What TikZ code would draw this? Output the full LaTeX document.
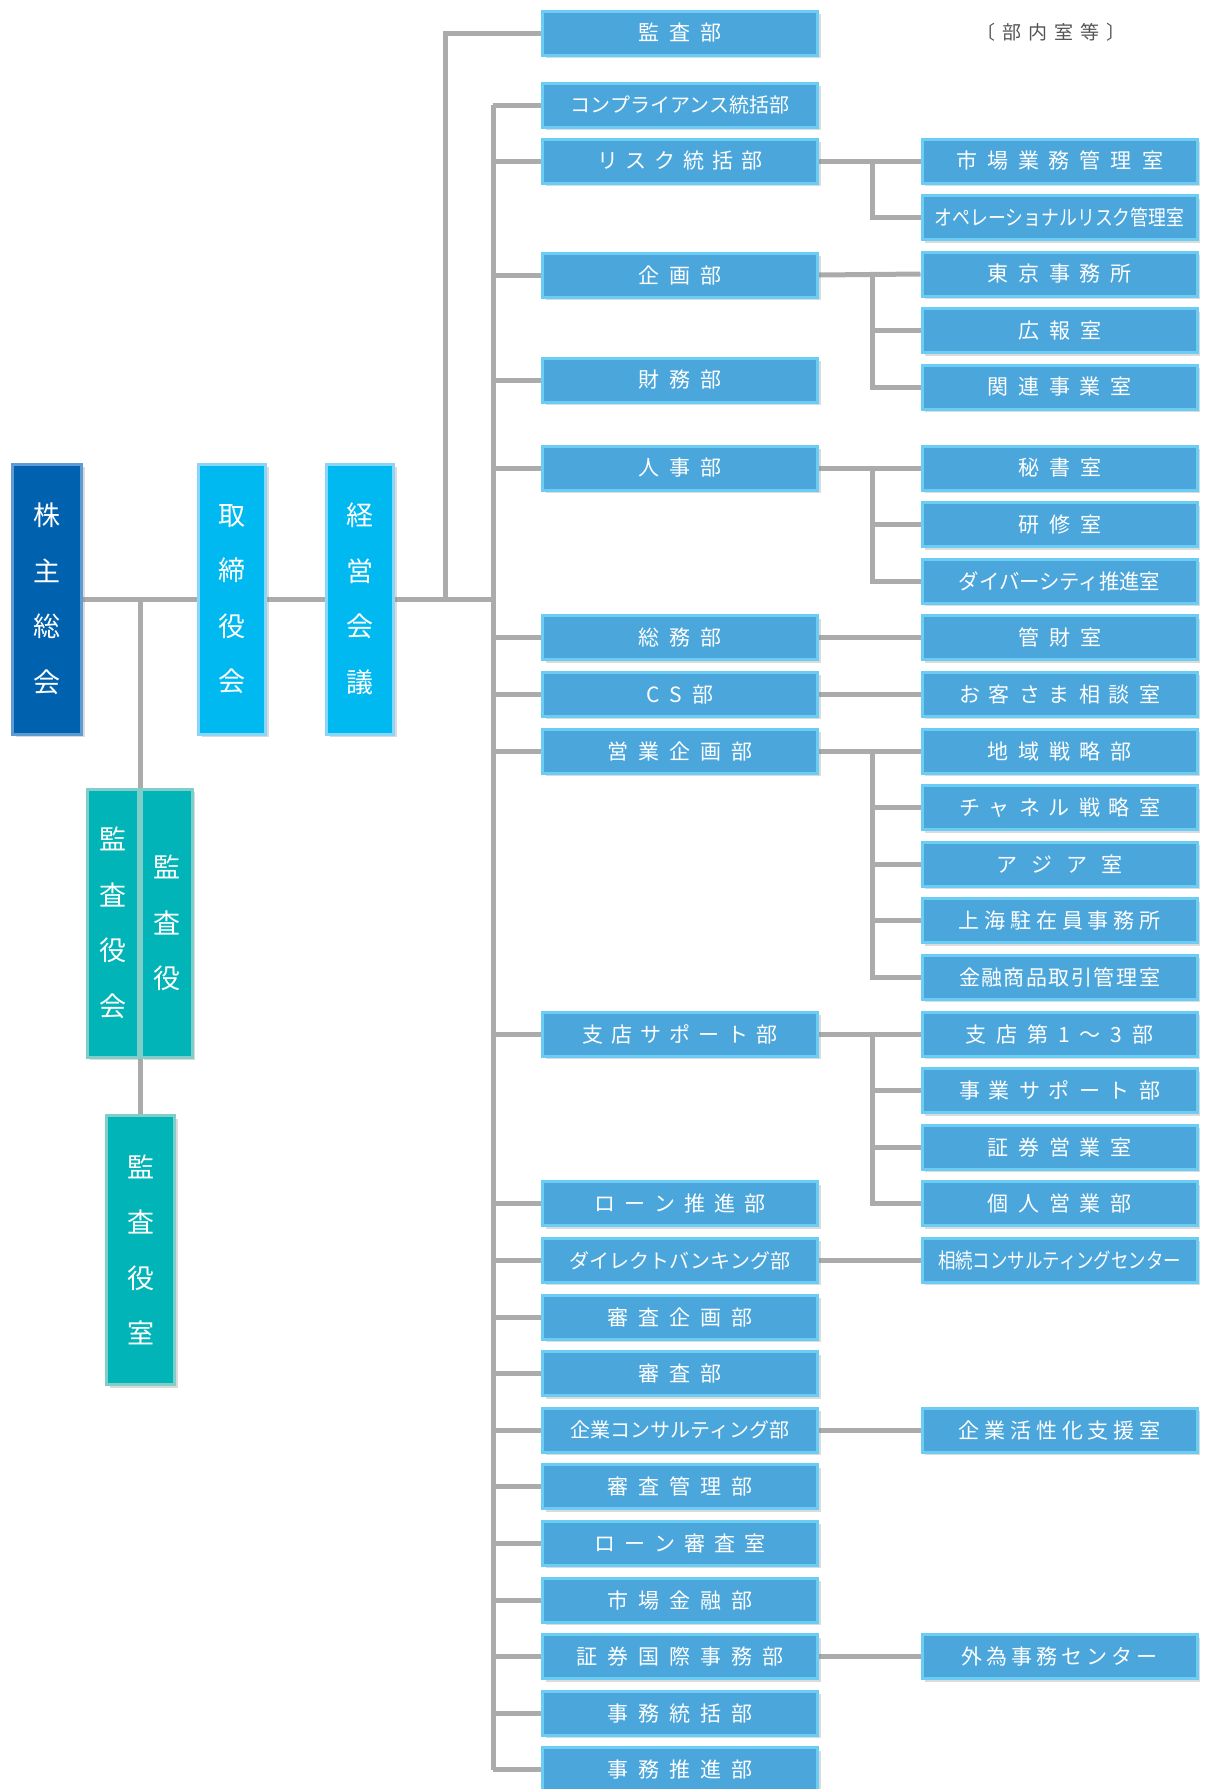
\documentclass[tikz,border=0pt]{standalone}
\usepackage{fontspec}
\usepackage{graphicx}
\newfontfamily\jp{Noto Sans CJK JP}
\usetikzlibrary{shadows,backgrounds}
\definecolor{mainfill}{HTML}{4BA6DC}
\definecolor{mainedge}{HTML}{6CCDF4}
\definecolor{kabufill}{HTML}{0061AE}
\definecolor{kabuedge}{HTML}{5E9AD3}
\definecolor{torifill}{HTML}{00B9F1}
\definecolor{toriedge}{HTML}{8AD6F6}
\definecolor{tealfill}{HTML}{00B4B7}
\definecolor{tealedge}{HTML}{80CEC9}
\definecolor{conncol}{HTML}{ABABAB}
\definecolor{headcol}{HTML}{555555}
\makeatletter
\newcommand\sptxt[2]{\def\sp@gap{#1}\sp@a#2\@nil}
\def\sp@a#1{\ifx#1\@nil\else#1\expandafter\sp@b\fi}
\def\sp@b#1{\ifx#1\@nil\else\hspace{\sp@gap}#1\expandafter\sp@b\fi}
\makeatother
\tikzset{
  boxshadow/.style={drop shadow={shadow xshift=3pt,shadow yshift=-3pt,opacity=.28}},
  mainbox/.style={draw=mainedge,fill=mainfill,line width=3pt,minimum width=275pt,
    minimum height=44pt,inner sep=0pt,text=white,boxshadow,
    font=\jp\fontsize{21}{21}\selectfont},
  subbox/.style={mainbox},
  vbox/.style={line width=3pt,inner sep=0pt,text=white,align=center,boxshadow,
    font=\jp\fontsize{27}{55.5}\selectfont},
  kabubox/.style={vbox,draw=kabuedge,fill=kabufill},
  toribox/.style={vbox,draw=toriedge,fill=torifill},
  tealbox/.style={vbox,draw=tealedge,fill=tealfill},
  conn/.style={draw=conncol,line width=5pt},
}
\begin{document}
\begin{tikzpicture}[x=1pt,y=-1pt]
\useasboundingbox (0,0) rectangle (1206,1789);

% left column
\node[kabubox,minimum width=69pt,minimum height=270pt] (kabu) at (47,599) {株\\主\\総\\会};
\node[toribox,minimum width=67pt,minimum height=270pt] (tori) at (232,599) {取\\締\\役\\会};
\node[toribox,minimum width=67pt,minimum height=270pt] (keiei) at (360,599) {経\\営\\会\\議};
\node[tealbox,minimum width=51pt,minimum height=268pt] (kyakukai) at (112.5,923) {監\\査\\役\\会};
\node[tealbox,minimum width=51pt,minimum height=268pt] (kyaku) at (166.5,923) {監\\査\\役};
\node[tealbox,minimum width=68pt,minimum height=269pt] (kshitsu) at (140.5,1250) {監\\査\\役\\室};

% header
\node[text=headcol,font=\jp\fontsize{19}{19}\selectfont] (head) at (1051,32) {\sptxt{7pt}{〔部内室等〕}};

% main column
\coordinate (tk) at (493,0);
\coordinate (kx) at (445,0);
\coordinate (sx) at (872,0);
\node[mainbox] (kansa) at (680,33) {\sptxt{10pt}{監査部}};
\node[mainbox] (comp) at (680,105) {\fontsize{20}{20}\selectfont コンプライアンス統括部};
\node[mainbox] (risk) at (680,161) {\sptxt{8pt}{リスク統括部}};
\node[mainbox] (kikaku) at (680,275) {\sptxt{10pt}{企画部}};
\node[mainbox] (zaimu) at (680,380) {\sptxt{10pt}{財務部}};
\node[mainbox] (jinji) at (680,468) {\sptxt{10pt}{人事部}};
\node[mainbox] (somu) at (680,637.8) {\sptxt{10pt}{総務部}};
\node[mainbox] (cs) at (680,694.4) {\sptxt{10pt}{CS部}};
\node[mainbox] (eigyo) at (680,751) {\sptxt{10pt}{営業企画部}};
\node[mainbox] (shiten) at (680,1034) {\sptxt{8pt}{支店サポート部}};
\node[mainbox] (loan) at (680,1203.8) {\sptxt{9pt}{ローン推進部}};
\node[mainbox] (direct) at (680,1260.4) {\fontsize{20}{20}\selectfont ダイレクトバンキング部};
\node[mainbox] (sk) at (680,1317) {\sptxt{10pt}{審査企画部}};
\node[mainbox] (shinsa) at (680,1373.6) {\sptxt{10pt}{審査部}};
\node[mainbox] (kigyo) at (680,1430.2) {\fontsize{20}{20}\selectfont 企業コンサルティング部};
\node[mainbox] (skanri) at (680,1486.8) {\sptxt{10pt}{審査管理部}};
\node[mainbox] (lshinsa) at (680,1543.4) {\sptxt{9pt}{ローン審査室}};
\node[mainbox] (shijo) at (680,1600) {\sptxt{10pt}{市場金融部}};
\node[mainbox] (shoken) at (680,1656.6) {\sptxt{10pt}{証券国際事務部}};
\node[mainbox] (jtokatsu) at (680,1713.2) {\sptxt{10pt}{事務統括部}};
\node[mainbox] (jsuishin) at (680,1769.8) {\sptxt{10pt}{事務推進部}};

% right column
\node[subbox] (r1) at (1059.5,161) {\sptxt{10pt}{市場業務管理室}};
\node[subbox] (r2) at (1059.5,217.5) {\scalebox{0.85}[1]{オペレーショナルリスク管理室}};
\node[subbox] (r3) at (1059.5,274) {\sptxt{10pt}{東京事務所}};
\node[subbox] (r4) at (1059.5,330.5) {\sptxt{10pt}{広報室}};
\node[subbox] (r5) at (1059.5,387) {\sptxt{10pt}{関連事業室}};
\node[subbox] (r6) at (1059.5,468) {\sptxt{10pt}{秘書室}};
\node[subbox] (r7) at (1059.5,524.6) {\sptxt{10pt}{研修室}};
\node[subbox] (r8) at (1059.5,581.2) {\scalebox{0.97}[1]{ダイバーシティ推進室}};
\node[subbox] (r9) at (1059.5,637.8) {\sptxt{10pt}{管財室}};
\node[subbox] (r10) at (1059.5,694.4) {\sptxt{9pt}{お客さま相談室}};
\node[subbox] (r11) at (1059.5,751) {\sptxt{10pt}{地域戦略部}};
\node[subbox] (r12) at (1059.5,807.6) {\sptxt{9pt}{チャネル戦略室}};
\node[subbox] (r13) at (1059.5,864.2) {\sptxt{14pt}{アジア室}};
\node[subbox] (r14) at (1059.5,920.8) {\sptxt{5pt}{上海駐在員事務所}};
\node[subbox] (r15) at (1059.5,977.4) {\sptxt{1.5pt}{金融商品取引管理室}};
\node[subbox] (r16) at (1059.5,1034) {\sptxt{10pt}{支店第1～3部}};
\node[subbox] (r17) at (1059.5,1090.6) {\sptxt{9pt}{事業サポート部}};
\node[subbox] (r18) at (1059.5,1147.2) {\sptxt{10pt}{証券営業室}};
\node[subbox] (r19) at (1059.5,1203.8) {\sptxt{10pt}{個人営業部}};
\node[subbox] (r20) at (1059.5,1260.4) {\scalebox{0.83}[1]{相続コンサルティングセンター}};
\node[subbox] (r21) at (1059.5,1430.2) {\sptxt{5pt}{企業活性化支援室}};
\node[subbox] (r22) at (1059.5,1656.6) {\sptxt{4pt}{外為事務センター}};

\begin{scope}[on background layer]
\fill[white] (0,0) rectangle (1206,1789);
% top-level line
\draw[conn] (kabu.east) -- (tori.west);
\draw[conn] (tori.east) -- (keiei.west);
\draw[conn] (keiei.east) -- (keiei.east -| tk);
\coordinate (ja) at (kabu.east -| kshitsu.north);
\draw[conn] (ja) -- (kshitsu.north);
\draw[conn] (keiei.east -| kx) |- (kansa.west);
% trunk
\draw[conn] (comp.west -| tk) -- (jsuishin.west -| tk);
\foreach \n in {comp,risk,kikaku,zaimu,jinji,somu,cs,eigyo,shiten,loan,direct,sk,shinsa,kigyo,skanri,lshinsa,shijo,shoken,jtokatsu,jsuishin}
  \draw[conn] (\n.west) -- (\n.west -| tk);
% sub branches
\draw[conn] (risk.east) -- (r1.west);
\draw[conn] (r1.west -| sx) |- (r2.west);
\draw[conn] (kikaku.east) -- (r3.west);
\draw[conn] (r3.west -| sx) |- (r5.west);
\draw[conn] (r4.west -| sx) -- (r4.west);
\draw[conn] (jinji.east) -- (r6.west);
\draw[conn] (r6.west -| sx) |- (r8.west);
\draw[conn] (r7.west -| sx) -- (r7.west);
\draw[conn] (somu.east) -- (r9.west);
\draw[conn] (cs.east) -- (r10.west);
\draw[conn] (eigyo.east) -- (r11.west);
\draw[conn] (r11.west -| sx) |- (r15.west);
\foreach \n in {r12,r13,r14} \draw[conn] (\n.west -| sx) -- (\n.west);
\draw[conn] (shiten.east) -- (r16.west);
\draw[conn] (r16.west -| sx) |- (r19.west);
\foreach \n in {r17,r18} \draw[conn] (\n.west -| sx) -- (\n.west);
\draw[conn] (direct.east) -- (r20.west);
\draw[conn] (kigyo.east) -- (r21.west);
\draw[conn] (shoken.east) -- (r22.west);
\end{scope}
\end{tikzpicture}
\end{document}
